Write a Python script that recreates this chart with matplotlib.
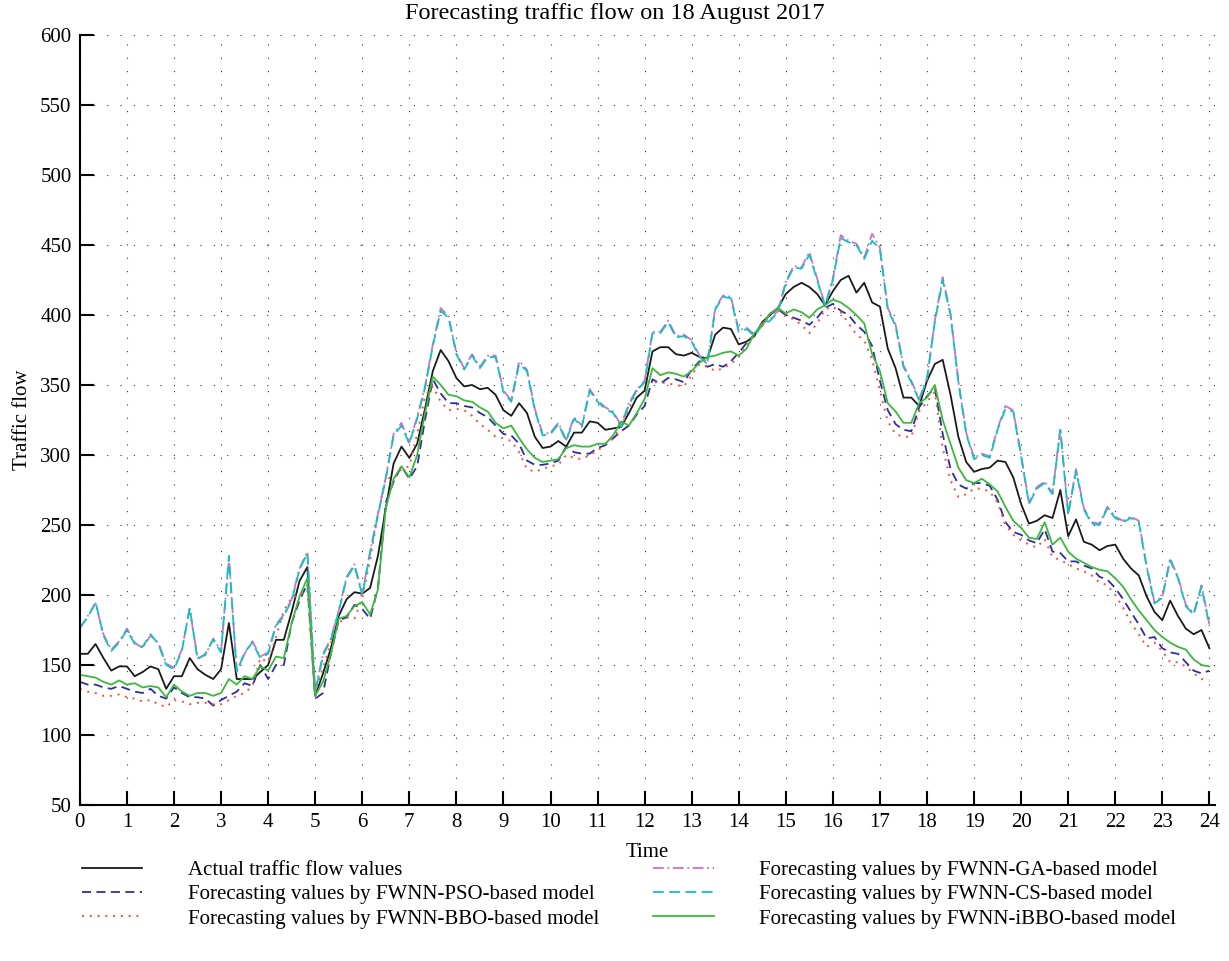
import matplotlib
matplotlib.use('Agg')
import matplotlib.pyplot as plt
import numpy as np

plt.rcParams['font.family'] = ['Liberation Serif', 'DejaVu Serif']
plt.rcParams['font.size'] = 15

# time axis: one value every 10 minutes over the day
hours = np.linspace(0, 24, 145)

actual = [158, 158, 165, 155, 146, 149,
          149, 142, 145, 149, 147, 133,
          142, 142, 155, 147, 143, 140,
          147, 180, 140, 140, 140, 145,
          150, 168, 168, 188, 210, 220,
          128, 144, 162, 185, 197, 202,
          201, 205, 228, 262, 294, 306,
          298, 308, 333, 360, 375, 367,
          355, 349, 350, 347, 348, 343,
          332, 328, 337, 330, 313, 305,
          306, 310, 306, 316, 316, 324,
          323, 318, 319, 320, 330, 341,
          346, 374, 377, 377, 372, 371,
          373, 370, 369, 386, 391, 390,
          379, 381, 385, 395, 400, 405,
          415, 420, 423, 420, 415, 407,
          417, 425, 428, 416, 423, 409,
          406, 376, 362, 341, 341, 335,
          353, 365, 368, 343, 313, 295,
          288, 290, 291, 296, 295, 284,
          265, 251, 253, 257, 255, 275,
          242, 254, 238, 236, 232, 235,
          236, 226, 219, 214, 199, 188,
          182, 196, 185, 176, 172, 175,
          162]

pso = [138, 136, 136, 134, 133, 135,
       133, 131, 130, 133, 128, 126,
       134, 130, 127, 127, 126, 121,
       125, 128, 131, 137, 135, 150,
       140, 150, 150, 180, 196, 208,
       126, 130, 158, 182, 184, 193,
       190, 183, 205, 266, 281, 292,
       283, 292, 325, 354, 344, 337,
       337, 335, 334, 330, 327, 321,
       315, 314, 308, 296, 293, 293,
       294, 296, 306, 302, 301, 301,
       305, 307, 312, 317, 321, 329,
       335, 354, 351, 355, 354, 352,
       361, 367, 363, 365, 363, 367,
       373, 380, 386, 393, 401, 404,
       400, 398, 396, 393, 398, 405,
       408, 403, 400, 393, 388, 378,
       353, 332, 322, 318, 317, 334,
       342, 348, 315, 290, 279, 276,
       280, 280, 278, 268, 252, 245,
       243, 239, 237, 247, 231, 230,
       224, 224, 221, 219, 213, 211,
       205, 197, 188, 179, 169, 170,
       162, 159, 158, 152, 146, 144,
       146]

bbo = [133, 131, 130, 128, 128, 129,
       127, 126, 124, 125, 122, 120,
       125, 124, 122, 123, 123, 122,
       122, 125, 128, 130, 135, 155,
       152, 170, 189, 198, 200, 204,
       130, 148, 166, 180, 184, 183,
       198, 225, 258, 284, 283, 290,
       292, 315, 342, 349, 338, 332,
       333, 332, 328, 322, 318, 313,
       312, 310, 302, 290, 288, 290,
       292, 293, 300, 298, 297, 300,
       303, 308, 312, 320, 333, 346,
       352, 352, 352, 351, 350, 349,
       357, 365, 363, 360, 362, 365,
       370, 378, 386, 392, 401, 403,
       399, 397, 393, 387, 394, 404,
       406, 402, 394, 386, 382, 368,
       346, 324, 315, 313, 313, 331,
       338, 345, 305, 282, 270, 272,
       276, 276, 274, 266, 250, 243,
       239, 236, 234, 240, 227, 225,
       222, 219, 217, 214, 209, 207,
       200, 191, 180, 172, 163, 166,
       160, 152, 152, 149, 144, 140,
       139]

ga = [176, 185, 194, 172, 161, 167,
      176, 166, 162, 171, 166, 151,
      148, 161, 190, 155, 157, 169,
      160, 226, 146, 158, 167, 156,
      159, 179, 186, 197, 219, 231,
      131, 158, 169, 189, 213, 222,
      201, 231, 258, 284, 315, 323,
      309, 327, 349, 379, 405, 399,
      373, 362, 372, 363, 371, 371,
      346, 339, 367, 361, 333, 315,
      316, 323, 311, 327, 321, 347,
      339, 334, 331, 321, 337, 347,
      353, 388, 388, 396, 385, 386,
      382, 371, 366, 405, 414, 413,
      389, 391, 386, 394, 397, 403,
      424, 435, 434, 445, 426, 407,
      426, 457, 453, 451, 441, 458,
      448, 405, 393, 364, 353, 340,
      355, 396, 427, 401, 353, 316,
      298, 301, 299, 319, 335, 332,
      300, 266, 277, 281, 273, 319,
      258, 290, 262, 252, 251, 263,
      256, 253, 256, 253, 221, 195,
      199, 226, 213, 193, 187, 207,
      179]

cs = [177, 184, 195, 171, 160, 166,
      175, 165, 163, 172, 165, 150,
      147, 160, 191, 154, 158, 168,
      159, 228, 145, 159, 166, 155,
      158, 178, 185, 196, 218, 230,
      130, 157, 168, 188, 212, 221,
      200, 230, 257, 283, 314, 321,
      308, 326, 348, 378, 403, 398,
      372, 361, 371, 362, 370, 370,
      345, 338, 365, 360, 332, 314,
      315, 322, 310, 326, 320, 346,
      338, 333, 330, 320, 336, 346,
      352, 387, 387, 395, 384, 385,
      381, 370, 365, 404, 413, 412,
      388, 390, 385, 393, 396, 402,
      423, 434, 433, 443, 425, 406,
      425, 455, 452, 450, 440, 453,
      447, 404, 392, 363, 352, 339,
      354, 395, 425, 400, 352, 315,
      297, 300, 298, 318, 333, 331,
      299, 265, 276, 280, 272, 318,
      257, 289, 261, 251, 250, 262,
      255, 252, 255, 252, 220, 194,
      198, 225, 212, 192, 186, 206,
      178]

ibbo = [143, 142, 141, 138, 136, 139,
        136, 137, 134, 135, 134, 127,
        136, 131, 128, 130, 130, 128,
        130, 140, 136, 142, 140, 149,
        146, 156, 155, 180, 199, 212,
        128, 138, 158, 183, 185, 192,
        195, 186, 204, 262, 283, 292,
        284, 300, 330, 356, 350, 343,
        342, 339, 338, 334, 331, 323,
        319, 321, 312, 304, 298, 295,
        296, 297, 305, 307, 306, 306,
        308, 308, 314, 324, 321, 330,
        340, 362, 357, 359, 358, 356,
        360, 366, 370, 371, 373, 374,
        371, 376, 387, 393, 401, 405,
        401, 404, 402, 398, 404, 407,
        411, 409, 405, 400, 394, 372,
        360, 337, 331, 323, 323, 337,
        341, 350, 325, 308, 291, 282,
        280, 283, 279, 274, 263, 253,
        248, 241, 240, 252, 236, 241,
        231, 226, 223, 220, 218, 217,
        212, 206, 197, 189, 182, 175,
        170, 166, 163, 161, 154, 150,
        149]

fig = plt.figure(figsize=(12.29, 9.61), dpi=100)
ax = fig.add_axes([0.065, 0.1623, 0.924, 0.8013])

ax.plot(hours, actual, color='#1a1a1a', lw=1.3, label='Actual traffic flow values')
ax.plot(hours, pso, color='#2e2e9e', lw=1.3, ls=(0, (5, 3)),
        label='Forecasting values by FWNN-PSO-based model')
ax.plot(hours, bbo, color='#ff4a3a', lw=1.4, ls=(0, (1, 3)),
        label='Forecasting values by FWNN-BBO-based model')
ax.plot(hours, ga, color='#d070c8', lw=1.3, ls=(0, (6, 2, 1, 2)),
        label='Forecasting values by FWNN-GA-based model')
ax.plot(hours, cs, color='#14c0c0', lw=1.3, ls=(0, (6, 3)),
        label='Forecasting values by FWNN-CS-based model')
ax.plot(hours, ibbo, color='#3cb83c', lw=1.3, label='Forecasting values by FWNN-iBBO-based model')

ax.set_xlim(0, 24.13)
ax.set_ylim(50, 600)
ax.set_xticks(range(0, 25))
ax.set_yticks(range(50, 601, 50))
ax.grid(True, color='#333333', lw=0.8, ls=(0, (1, 11)))
ax.spines['top'].set_visible(False)
ax.spines['right'].set_visible(False)
ax.spines['left'].set_linewidth(1.5)
ax.spines['bottom'].set_linewidth(1.5)
ax.tick_params(direction='in', length=10, width=1.5, pad=6)

fig.text(0.5, 1 - 13 / 961, 'Forecasting traffic flow on 18 August 2017',
         ha='center', va='center', fontsize=17.5)
ax.set_xlabel('Time', labelpad=8)
ax.set_ylabel('Traffic flow', labelpad=6)

fig.legend(loc='upper left', bbox_to_anchor=(0.0545, 0.1195), ncol=2, frameon=False,
           handlelength=2.9, handletextpad=2.2, columnspacing=2.6, labelspacing=0.22,
           borderpad=0.2)

fig.savefig('out.png', dpi=100)
